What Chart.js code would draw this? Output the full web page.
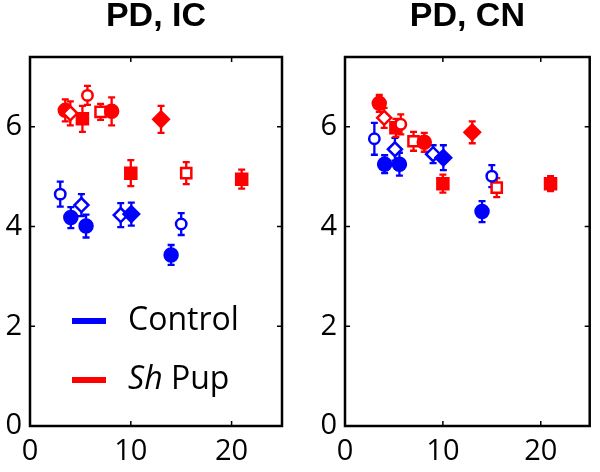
<!DOCTYPE html>
<html>
<head>
<meta charset="utf-8">
<script src="https://cdn.jsdelivr.net/npm/chart.js@4.4.1/dist/chart.umd.min.js"></script>
<style>
  html, body { margin: 0; padding: 0; background: #fff; }
  .panel { position: absolute; top: 0; width: 300px; height: 472px; }
  #left { left: 0; }
  #right { left: 300px; }
</style>
</head>
<body>
<div class="panel" id="left"><canvas id="icChart"></canvas></div>
<div class="panel" id="right"><canvas id="cnChart"></canvas></div>
<script>
// ages (x) and marker kinds, shared by both panels
const pupAge = [3.5, 4.0, 5.2, 5.7, 7.0, 8.1, 10.0, 13.0, 15.5, 21.0];
const pupMarker = ['●', '◇', '■', '○', '□', '●', '■', '◆', '□', '■'];
const ctrlAge = [3.0, 4.05, 5.1, 5.56, 9.0, 10.05, 14.0, 15.0];
const ctrlMarker = ['○', '●', '◇', '●', '◇', '◆', '●', '○'];

// PD, IC
const icPupMean = [6.33, 6.27, 6.16, 6.63, 6.30, 6.31, 5.07, 6.15, 5.07, 4.95];
const icPupErr = [0.22, 0.24, 0.26, 0.19, 0.16, 0.28, 0.26, 0.27, 0.22, 0.19];
const icCtrlMean = [4.65, 4.18, 4.43, 4.01, 4.23, 4.25, 3.43, 4.05];
const icCtrlErr = [0.25, 0.21, 0.22, 0.23, 0.24, 0.23, 0.20, 0.22];

// PD, CN
const cnPupMean = [6.47, 6.18, 5.98, 6.05, 5.71, 5.69, 4.86, 5.89, 4.78, 4.86];
const cnPupErr = [0.17, 0.20, 0.18, 0.20, 0.19, 0.19, 0.18, 0.22, 0.19, 0.15];
const cnCtrlMean = [5.76, 5.25, 5.55, 5.25, 5.45, 5.38, 4.30, 5.01];
const cnCtrlErr = [0.32, 0.18, 0.23, 0.23, 0.18, 0.25, 0.21, 0.22];

const xTicks = [0, 10, 20];
const yTicks = [0, 2, 4, 6];
const seriesNames = ['Control', 'Sh Pup'];
const panelTitles = ['PD, IC', 'PD, CN'];

const CTRL_COLOR = '#0000ff';
const PUP_COLOR = '#ff0000';
const TICK_FONT = "'Open Sans', sans-serif";

const markerStyle = {
    '●': { style: 'circle', r: 6.5, filled: true },
    '○': { style: 'circle', r: 5.2, filled: false },
    '■': { style: 'rect', r: 7.8, filled: true },
    '□': { style: 'rect', r: 7.2, filled: false },
    '◆': { style: 'rectRot', r: 7.8, filled: true },
    '◇': { style: 'rectRot', r: 7, filled: false }
};

function makeDataset(label, ages, means, errs, markers, color) {
    return {
        label: label,
        data: ages.map((a, i) => ({ x: a, y: means[i], err: errs[i] })),
        borderColor: color,
        pointBorderColor: color,
        pointBorderWidth: 2.5,
        pointStyle: markers.map(m => markerStyle[m].style),
        pointRadius: markers.map(m => markerStyle[m].r),
        pointBackgroundColor: markers.map(m => markerStyle[m].filled ? color : '#ffffff'),
        showLine: false
    };
}

// vertical error bars with caps, drawn under the markers
const errorBars = {
    id: 'errorBars',
    beforeDatasetsDraw(chart) {
        const ctx = chart.ctx;
        const xs = chart.scales.x, ys = chart.scales.y;
        chart.data.datasets.forEach(ds => {
            ctx.save();
            ctx.strokeStyle = ds.borderColor;
            ctx.lineWidth = 2.3;
            ds.data.forEach(p => {
                const px = xs.getPixelForValue(p.x);
                const top = ys.getPixelForValue(p.y + p.err);
                const bot = ys.getPixelForValue(p.y - p.err);
                ctx.beginPath();
                ctx.moveTo(px, top); ctx.lineTo(px, bot);
                ctx.moveTo(px - 3.5, top); ctx.lineTo(px + 3.5, top);
                ctx.moveTo(px - 3.5, bot); ctx.lineTo(px + 3.5, bot);
                ctx.stroke();
            });
            ctx.restore();
        });
    }
};

// matlab style box with inward ticks, plus the panel title
const boxFrame = {
    id: 'boxFrame',
    afterDraw(chart, args, opts) {
        const ctx = chart.ctx;
        const a = chart.chartArea;
        const xs = chart.scales.x, ys = chart.scales.y;
        ctx.save();
        ctx.strokeStyle = '#000';
        ctx.lineWidth = 1.5;
        xTicks.forEach(v => {
            const px = xs.getPixelForValue(v);
            if (px <= a.left + 1) return;
            ctx.beginPath();
            ctx.moveTo(px, a.bottom); ctx.lineTo(px, a.bottom - 5);
            ctx.moveTo(px, a.top); ctx.lineTo(px, a.top + 5);
            ctx.stroke();
        });
        yTicks.forEach(v => {
            const py = ys.getPixelForValue(v);
            if (py >= a.bottom - 1) return;
            ctx.beginPath();
            ctx.moveTo(a.left, py); ctx.lineTo(a.left + 5, py);
            ctx.moveTo(a.right, py); ctx.lineTo(a.right - 5, py);
            ctx.stroke();
        });
        ctx.lineWidth = 2.5;
        ctx.strokeRect(a.left, a.top, a.right - a.left, a.bottom - a.top);

        ctx.fillStyle = '#000';
        ctx.font = "bold 34px 'Liberation Sans', Arial, sans-serif";
        ctx.textAlign = 'center';
        ctx.textBaseline = 'middle';
        ctx.fillText(opts.title, (a.left + a.right) / 2, 17);
        ctx.restore();
    }
};

// legend inside the left panel: short thick lines and labels
const panelLegend = {
    id: 'panelLegend',
    afterDraw(chart, args, opts) {
        if (!opts.show) return;
        const ctx = chart.ctx;
        const a = chart.chartArea;
        const colors = [CTRL_COLOR, PUP_COLOR];
        ctx.save();
        ctx.font = "32px " + TICK_FONT;
        ctx.textBaseline = 'middle';
        seriesNames.forEach((name, i) => {
            const y = a.top + 264 + i * 59;
            ctx.fillStyle = colors[i];
            ctx.fillRect(a.left + 42, y - 3, 34, 6);
            ctx.fillStyle = '#000';
            let x = a.left + 98;
            const parts = name.split(' ');
            if (parts[0] === 'Sh') {
                ctx.font = "italic 32px " + TICK_FONT;
                ctx.fillText('Sh', x, y);
                x += ctx.measureText('Sh ').width;
                ctx.font = "32px " + TICK_FONT;
                ctx.fillText(parts.slice(1).join(' '), x, y);
            } else {
                ctx.fillText(name, x, y);
            }
        });
        ctx.restore();
    }
};

function makePanel(canvasId, title, ctrlMean, ctrlErr, pupMean, pupErr, yWidth, padRight, showLegend) {
    const ctx = document.getElementById(canvasId).getContext('2d');
    return new Chart(ctx, {
        type: 'scatter',
        data: {
            datasets: [
                makeDataset(seriesNames[0], ctrlAge, ctrlMean, ctrlErr, ctrlMarker, CTRL_COLOR),
                makeDataset(seriesNames[1], pupAge, pupMean, pupErr, pupMarker, PUP_COLOR)
            ]
        },
        options: {
            responsive: true,
            maintainAspectRatio: false,
            animation: false,
            events: [],
            layout: { padding: { top: 57, right: padRight, left: 0, bottom: 0 } },
            plugins: {
                legend: { display: false },
                tooltip: { enabled: false },
                boxFrame: { title: title },
                panelLegend: { show: showLegend }
            },
            scales: {
                x: {
                    type: 'linear',
                    min: 0,
                    max: 25,
                    afterBuildTicks: s => { s.ticks = xTicks.map(v => ({ value: v })); },
                    afterFit: s => { s.height = 46; },
                    grid: { display: false, drawTicks: false },
                    border: { display: false },
                    ticks: { color: '#000', padding: 8, maxRotation: 0, font: { family: TICK_FONT, size: 29 } }
                },
                y: {
                    type: 'linear',
                    min: 0,
                    max: 7.4,
                    afterBuildTicks: s => { s.ticks = yTicks.map(v => ({ value: v })); },
                    afterFit: s => { s.width = yWidth; },
                    grid: { display: false, drawTicks: false },
                    border: { display: false },
                    ticks: { color: '#000', padding: 8, font: { family: TICK_FONT, size: 29 } }
                }
            }
        },
        plugins: [errorBars, boxFrame, panelLegend]
    });
}

document.addEventListener('DOMContentLoaded', function() {
    makePanel('icChart', panelTitles[0], icCtrlMean, icCtrlErr, icPupMean, icPupErr, 30, 18, true);
    makePanel('cnChart', panelTitles[1], cnCtrlMean, cnCtrlErr, cnPupMean, cnPupErr, 45, 3, false);
});
</script>
</body>
</html>
